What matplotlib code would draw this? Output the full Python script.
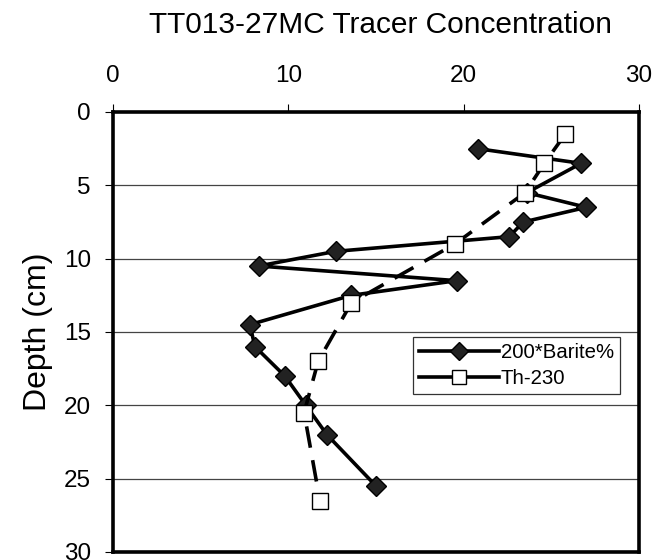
import matplotlib
matplotlib.use("Agg")
import matplotlib.pyplot as plt
from matplotlib.lines import Line2D

plt.rcParams['font.family'] = ['Liberation Sans', 'DejaVu Sans']

# 200*Barite% profile
barite_x = [20.8, 26.7, 23.6, 27.0, 23.4, 22.6, 12.7, 8.3, 19.6, 13.6, 7.8, 8.1, 9.8, 11.0, 12.2, 15.0]
barite_depth = [2.5, 3.5, 5.5, 6.5, 7.5, 8.5, 9.5, 10.5, 11.5, 12.5, 14.5, 16, 18, 20, 22, 25.5]

# Th-230 profile
th_x = [25.8, 24.6, 23.5, 19.5, 13.6, 11.7, 10.9, 11.8]
th_depth = [1.5, 3.5, 5.5, 9, 13, 17, 20.5, 26.5]

x_ticks = [0, 10, 20, 30]
y_ticks = [0, 5, 10, 15, 20, 25, 30]

fig = plt.figure(figsize=(6.66, 5.6), dpi=100)
ax = fig.add_axes([113/666, 1 - 552/560, (639-113)/666, (552-112)/560])

for d in y_ticks[1:-1]:
    ax.axhline(d, color='#444444', lw=0.9, zorder=1)

ax.plot(barite_x, barite_depth, color='black', lw=2.6, marker='D', ms=10,
        mfc='#222222', mec='black', mew=1, zorder=3)
ax.plot(th_x, th_depth, color='black', lw=2.6, ls=(0, (6, 3.5)), marker='s', ms=11.5,
        mfc='white', mec='black', mew=1, zorder=4)

ax.set_xlim(0, 30)
ax.set_ylim(30, 0)
ax.set_xticks(x_ticks)
ax.set_yticks(y_ticks)
ax.xaxis.tick_top()
ax.tick_params(axis='both', direction='out', length=6, width=0.8, labelsize=17.5, pad=10)
ax.tick_params(axis='x', pad=12)
for s in ax.spines.values():
    s.set_linewidth(2.6)

ax.set_ylabel('Depth (cm)', fontsize=23, labelpad=8)
fig.text(0.5 * (147 + 614) / 666, 1 - 25/560, 'TT013-27MC Tracer Concentration',
         ha='center', va='center', fontsize=21.5)

handles = [
    Line2D([], [], color='black', lw=2.6, marker='D', ms=9, mfc='#222222', mec='black'),
    Line2D([], [], color='black', lw=2.6, marker='s', ms=10.5, mfc='white', mec='black'),
]
leg = ax.legend(handles, ['200*Barite%', 'Th-230'], loc='upper left',
                bbox_to_anchor=((413-113)/526, 1 - (337-112)/440),
                fontsize=14.7, frameon=True, fancybox=False, edgecolor='black',
                borderpad=0.3, handlelength=3.9, handletextpad=0.1, labelspacing=0.35,
                borderaxespad=0)
leg.get_frame().set_linewidth(0.9)

fig.savefig('out.png', dpi=100)
